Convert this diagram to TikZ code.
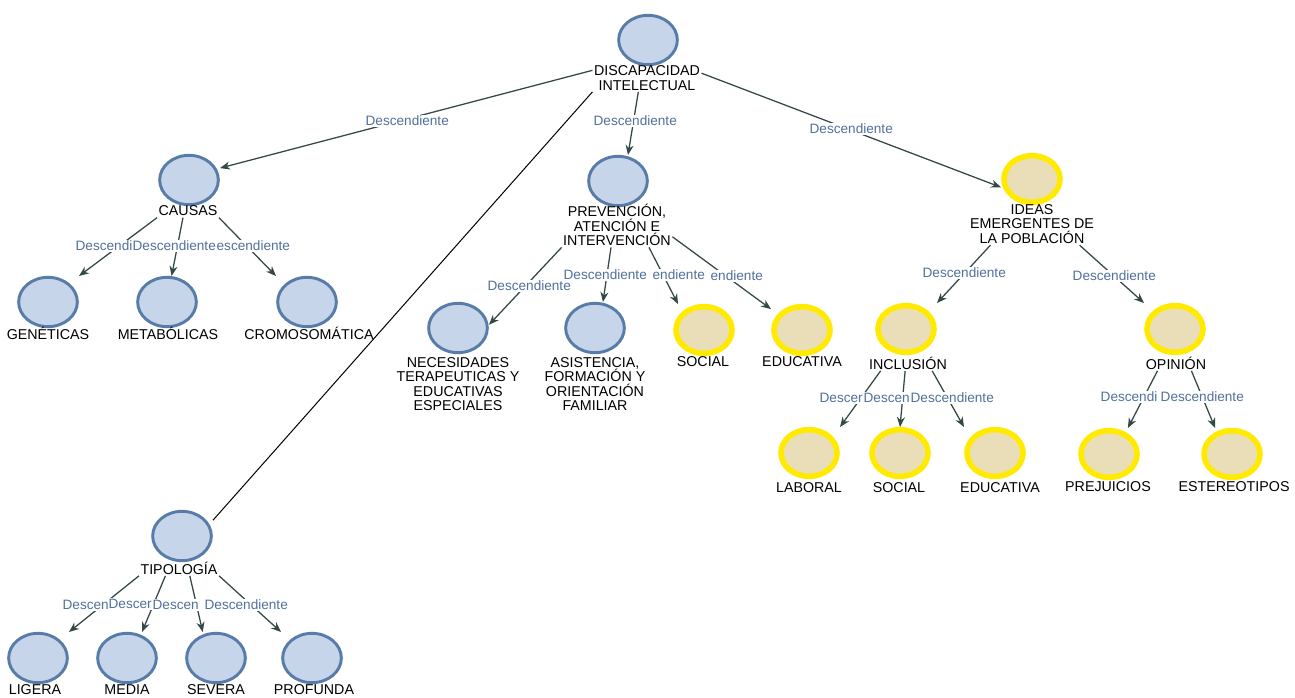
\documentclass[tikz,border=0pt]{standalone}
\usepackage{fontspec}
\setmainfont{Liberation Sans}
\usetikzlibrary{arrows.meta}
\definecolor{bfill}{RGB}{198,213,233}
\definecolor{bline}{RGB}{88,124,168}
\definecolor{yfill}{RGB}{234,222,184}
\definecolor{yline}{RGB}{255,234,0}
\definecolor{edgec}{RGB}{52,72,72}
\definecolor{labc}{RGB}{82,112,155}
\begin{document}
\begin{tikzpicture}[x=0.75pt,y=-0.75pt,
  cbox/.style={rectangle,minimum width=46.5pt,minimum height=39pt,inner sep=0pt,outer sep=0pt},
  bcirc/.style={draw=bline,fill=bfill,line width=2.2pt},
  ycirc/.style={draw=yline,fill=yfill,line width=4.2pt},
  ntext/.style={font=\fontsize{10.7}{10.9}\selectfont,align=center,inner sep=1pt,text=black},
  lab/.style={font=\fontsize{10.2}{11}\selectfont,text=labc,fill=white,inner xsep=0.3pt,inner ysep=1pt,anchor=west},
  arr/.style={draw=edgec,line width=0.95pt,-{Stealth[length=7.5pt,width=6pt]}},
  thinl/.style={draw=black,line width=0.75pt}]
\fill[white] (0,0) rectangle (1295,697);
\useasboundingbox (0,0) rectangle (1295,697);

% circle boxes
\node[cbox] (d) at (648,40) {};
\node[cbox] (c) at (189,180) {};
\node[cbox] (gen) at (48,302) {};
\node[cbox] (met) at (167,302) {};
\node[cbox] (cro) at (307,302) {};
\node[cbox] (p) at (618,181) {};
\node[cbox] (nec) at (458,328) {};
\node[cbox] (asi) at (595,328) {};
\node[cbox] (soc) at (704,330) {};
\node[cbox] (edu) at (802,330) {};
\node[cbox] (i) at (1032,179) {};
\node[cbox] (inc) at (906,329) {};
\node[cbox] (opi) at (1175,329) {};
\node[cbox] (lab) at (809,453) {};
\node[cbox] (soc2) at (900,453) {};
\node[cbox] (edu2) at (995,453) {};
\node[cbox] (pre) at (1109,454) {};
\node[cbox] (est) at (1232,454) {};
\node[cbox] (tip) at (182,536) {};
\node[cbox] (lig) at (38,658) {};
\node[cbox] (med) at (127,658) {};
\node[cbox] (sev) at (216,658) {};
\node[cbox] (pro) at (312,658) {};

\foreach \n in {d,c,gen,met,cro,p,nec,asi,tip,lig,med,sev,pro}
  \path[bcirc] (\n.center) ellipse [x radius=22pt,y radius=18.5pt];
\foreach \n in {soc,edu,i,inc,opi,lab,soc2,edu2,pre,est}
  \path[ycirc] (\n.center) ellipse [x radius=21pt,y radius=17.5pt];

% texts
\node[ntext] (dT) at (647,78) {DISCAPACIDAD\\INTELECTUAL};
\node[ntext] (cT) at (188,211) {CAUSAS};
\node[ntext] (genT) at (48,333) {GENÉTICAS};
\node[ntext] (metT) at (168,333) {METABÓLICAS};
\node[ntext] (croT) at (309,333) {CROMOSOMÁTICA};
\node[ntext] (pT) at (617,225) {PREVENCIÓN,\\ATENCIÓN E\\INTERVENCIÓN};
\node[ntext] (necT) at (458,384) {NECESIDADES\\TERAPEUTICAS Y\\EDUCATIVAS\\ESPECIALES};
\node[ntext] (asiT) at (595,384) {ASISTENCIA,\\FORMACIÓN Y\\ORIENTACIÓN\\FAMILIAR};
\node[ntext] (socT) at (703,362) {SOCIAL};
\node[ntext] (eduT) at (802,362) {EDUCATIVA};
\node[ntext] (iT) at (1032,224) {IDEAS\\EMERGENTES DE\\LA POBLACIÓN};
\node[ntext] (incT) at (908,363) {INCLUSIÓN};
\node[ntext] (opiT) at (1176,363) {OPINIÓN};
\node[ntext] (labT) at (809,488) {LABORAL};
\node[ntext] (soc2T) at (899,488) {SOCIAL};
\node[ntext] (edu2T) at (1000,488) {EDUCATIVA};
\node[ntext] (preT) at (1108,487) {PREJUICIOS};
\node[ntext] (estT) at (1234,487) {ESTEREOTIPOS};
\node[ntext] (tipT) at (179,568) {TIPOLOGÍA};
\node[ntext] (ligT) at (35,690) {LIGERA};
\node[ntext] (medT) at (127,690) {MEDIA};
\node[ntext] (sevT) at (216,690) {SEVERA};
\node[ntext] (proT) at (314,690) {PROFUNDA};

% connectors
\draw[arr] (dT.172) -- (c.21);
\draw[thinl] (dT.south west) -- (tip.27);
\draw[arr] (dT.-122) -- (p.69);
\draw[arr] (dT.5) -- (i.195);

\draw[arr] (cT.south west) -- (gen.north east);
\draw[arr] (cT.-127) -- (met.80);
\draw[arr] (cT.south east) -- (cro.north west);

\draw[arr] (pT.south west) -- (nec.6);
\draw[arr] (pT.-105) -- (asi.73);
\draw[arr] (pT.-35) -- (soc.135);
\draw[arr] (pT.-12) -- (edu.146);

\draw[arr] (iT.-153) -- (inc.north east);
\draw[arr] (iT.-24) -- (opi.north west);

\draw[arr] (incT.-164) -- (lab.north east);
\draw[arr] (incT.-110) -- (soc2.north);
\draw[arr] (incT.-18) -- (edu2.north west);

\draw[arr] (opiT.-157) -- (pre.54);
\draw[arr] (opiT.-27) -- (est.123);

\draw[arr] (tipT.south west) -- (lig.north east);
\draw[arr] (tipT.-150) -- (med.60);
\draw[arr] (tipT.-36) -- (sev.117);
\draw[arr] (tipT.south east) -- (pro.north west);

% connector labels (as printed, partly cut off)
\node[lab] (la1) at (365,121) {Descendiente};
\node[lab] (la2) at (593,121) {Descendiente};
\node[lab] (la3) at (809,129) {Descendiente};

\node[lab] (lc1) at (75,246) {Descendi};
\node[lab] (lc2) at (132,246) {Descendiente};
\node[lab] (lc3) at (216,246) {escendiente};

\node[lab] (lp1) at (487,286) {Descendiente};
\node[lab] (lp2) at (563,275) {Descendiente};
\node[lab] (lp3) at (652,275) {endiente};
\node[lab] (lp4) at (710,276) {endiente};

\node[lab] (li1) at (922,273) {Descendiente};
\node[lab] (li2) at (1072,276) {Descendiente};

\node[lab] (ln1) at (819,398) {Descer};
\node[lab] (ln2) at (863,398) {Descen};
\node[lab] (ln3) at (910,398) {Descendiente};

\node[lab] (lo1) at (1100,397) {Descendi};
\node[lab] (lo2) at (1160,397) {Descendiente};

\node[lab] (lt1) at (62,605) {Descen};
\node[lab] (lt2) at (108,604) {Descer};
\node[lab] (lt3) at (152,605) {Descen};
\node[lab] (lt4) at (204,605) {Descendiente};
\end{tikzpicture}
\end{document}
